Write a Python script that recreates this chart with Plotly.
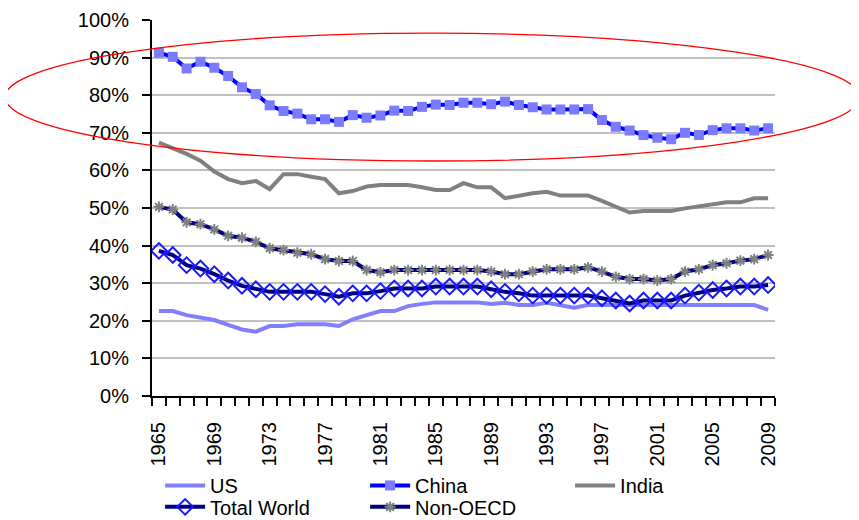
import plotly.graph_objects as go

years = list(range(1965, 2010))

us = [22.6, 22.6, 21.5, 20.9, 20.2, 18.9, 17.7, 17.1, 18.6, 18.6,
      19.1, 19.1, 19.1, 18.6, 20.4, 21.5, 22.6, 22.6, 23.9, 24.5,
      24.9, 24.9, 24.9, 24.9, 24.5, 24.8, 24.2, 24.2, 24.8, 24.2,
      23.5, 24.2, 24.2, 24.2, 24.2, 24.2, 24.2, 24.2, 24.2, 24.2,
      24.2, 24.2, 24.2, 24.2, 22.9]

china = [91.3, 90.2, 87.1, 88.9, 87.3, 85.1, 82.1, 80.3, 77.3, 75.8,
         75.1, 73.6, 73.6, 72.9, 74.7, 74.0, 74.6, 75.9, 75.8, 76.9,
         77.5, 77.4, 78.0, 78.0, 77.6, 78.3, 77.4, 76.8, 76.2, 76.2,
         76.2, 76.3, 73.4, 71.6, 70.6, 69.4, 68.7, 68.3, 70.0, 69.4,
         70.7, 71.2, 71.2, 70.6, 71.2]

india = [67.4, 65.9, 64.4, 62.6, 59.7, 57.7, 56.6, 57.2, 55.0, 59.0,
         59.0, 58.3, 57.7, 53.9, 54.5, 55.7, 56.1, 56.1, 56.1, 55.5,
         54.8, 54.8, 56.6, 55.5, 55.5, 52.6, 53.3, 53.9, 54.3, 53.3,
         53.3, 53.3, 51.9, 50.4, 48.8, 49.2, 49.2, 49.2, 49.9, 50.5,
         51.1, 51.5, 51.5, 52.6, 52.6]

total_world = [38.6, 37.5, 34.8, 33.9, 32.4, 30.7, 29.3, 28.4, 27.7, 27.7,
               27.7, 27.7, 27.1, 26.4, 27.3, 27.3, 27.9, 28.6, 28.6, 28.6,
               29.1, 29.1, 29.1, 29.1, 28.4, 27.7, 27.3, 26.7, 26.7, 26.7,
               26.7, 26.7, 26.0, 25.4, 24.6, 25.4, 25.4, 25.4, 26.7, 27.5,
               28.2, 28.6, 29.1, 29.1, 29.5]

non_oecd = [50.3, 49.6, 46.2, 45.7, 44.3, 42.6, 42.1, 41.0, 39.3, 38.8,
            38.1, 37.7, 36.4, 35.9, 35.9, 33.5, 32.9, 33.5, 33.5, 33.5,
            33.5, 33.5, 33.5, 33.5, 33.1, 32.4, 32.4, 33.1, 33.7, 33.7,
            33.7, 34.2, 33.1, 31.7, 31.1, 31.1, 30.7, 31.1, 33.1, 33.7,
            34.8, 35.3, 36.0, 36.4, 37.5]

tick_years = years[::4]

FONT = "Liberation Sans, Arial, sans-serif"

fig = go.Figure()
fig.add_trace(go.Scatter(x=years, y=us, name="US", mode="lines", legend="legend",
                         line=dict(color="#8080ff", width=4)))
fig.add_trace(go.Scatter(x=years, y=china, name="China", mode="lines+markers", legend="legend",
                         line=dict(color="#0000ff", width=4),
                         marker=dict(symbol="square", size=10, color="#7b7bff")))
fig.add_trace(go.Scatter(x=years, y=india, name="India", mode="lines", legend="legend",
                         line=dict(color="#808080", width=4)))
fig.add_trace(go.Scatter(x=years, y=total_world, name="Total World", mode="lines+markers",
                         legend="legend2",
                         line=dict(color="#000080", width=4),
                         marker=dict(symbol="diamond-open", size=12, color="#1a1aff",
                                     line=dict(width=2, color="#1a1aff"))))
fig.add_trace(go.Scatter(x=years, y=non_oecd, name="Non-OECD", mode="lines+markers",
                         legend="legend2",
                         line=dict(color="#000080", width=4),
                         marker=dict(symbol="asterisk-open", size=9, color="#808080",
                                     line=dict(width=2, color="#808080"))))

# red ellipse highlighting China
fig.add_shape(type="circle", xref="paper", yref="paper",
              x0=-0.236, x1=1.136, y0=0.625, y1=0.965,
              line=dict(color="#ff0000", width=1.3), layer="above")

legend_common = dict(orientation="h", xanchor="left", yanchor="top",
                     entrywidth=150, entrywidthmode="pixels",
                     font=dict(family=FONT, size=20), tracegroupgap=0,
                     itemwidth=40, bgcolor="rgba(0,0,0,0)")

fig.update_layout(
    width=859, height=520,
    margin=dict(l=144, r=92, t=12, b=132, autoexpand=False),
    paper_bgcolor="white", plot_bgcolor="white",
    font=dict(family=FONT, size=20, color="black"),
    showlegend=True,
    legend=dict(x=0.013, y=-0.186, **legend_common),
    legend2=dict(x=0.013, y=-0.243, **legend_common),
    xaxis=dict(type="linear", range=[1964.5, 2009.5], automargin=False,
               tickmode="array", tickvals=tick_years,
               ticktext=[str(y) for y in tick_years],
               tickangle=-90, ticks="outside", ticklen=8, tickcolor="rgba(0,0,0,0)",
               ticklabelstandoff=8,
               showline=True, linecolor="black", linewidth=2,
               showgrid=False, zeroline=False,
               minor=dict(ticks="outside", tick0=1964.5, dtick=1, ticklen=8,
                          tickwidth=2, tickcolor="black", showgrid=False)),
    yaxis=dict(range=[0, 100], dtick=10, ticksuffix="%", automargin=False,
               ticks="outside", ticklen=8, tickwidth=2, tickcolor="black",
               ticklabelstandoff=9,
               showline=True, linecolor="black", linewidth=2,
               showgrid=True, gridcolor="#c0c0c0", gridwidth=2, zeroline=False),
)

fig.write_html("out.html")
